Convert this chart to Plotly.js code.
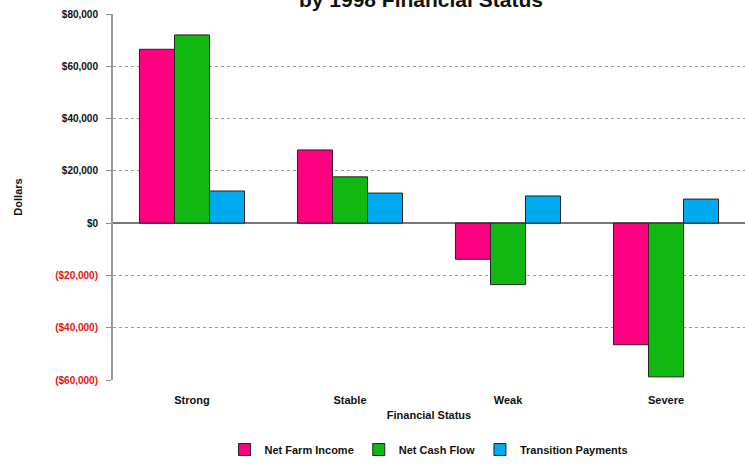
<!DOCTYPE html>
<html><head><meta charset="utf-8">
<script src="https://cdn.plot.ly/plotly-3.0.1.min.js"></script>
<style>html,body{margin:0;padding:0;background:#fff}#chart{width:745px;height:465px}</style>
</head><body><div id="chart"></div>
<script>
const categories = ["Strong", "Stable", "Weak", "Severe"];
const netFarmIncome = [66500, 28000, -13800, -46500];
const netCashFlow = [72000, 17700, -23500, -58800];
const transitionPayments = [12300, 11500, 10400, 9200];
const yTickVals = [80000, 60000, 40000, 20000, 0, -20000, -40000, -60000];
const yTickText = ["$80,000", "$60,000", "$40,000", "$20,000", "$0",
  '<span style="color:#ee1111">($20,000)</span>',
  '<span style="color:#ee1111">($40,000)</span>',
  '<span style="color:#ee1111">($60,000)</span>'];

const mk = (name, y, color) => ({
  type: "bar", name: name, x: categories, y: y,
  marker: {color: color, line: {color: "#222", width: 1}}
});
const data = [
  mk("Net Farm Income", netFarmIncome, "#FF0080"),
  mk("Net Cash Flow", netCashFlow, "#12B812"),
  mk("Transition Payments", transitionPayments, "#00AAEE")
];
const layout = {
  width: 745, height: 465,
  margin: {l: 113, r: 0, t: 14, b: 85},
  paper_bgcolor: "#fff", plot_bgcolor: "#fff",
  font: {family: "Liberation Sans, Arial, sans-serif", color: "#111"},
  barmode: "group", bargap: 0.335, bargroupgap: 0,
  showlegend: true,
  title: {text: "<b>by 1998 Financial Status</b>", font: {size: 21, color: "#111"},
    x: 0.565, xanchor: "center", y: 1.0, yanchor: "middle", yref: "container"},
  xaxis: {
    type: "category", showgrid: false, showline: false, ticks: "",
    ticklabelstandoff: 12,
    tickfont: {size: 11, weight: "bold", color: "#111"},
    title: {text: "<b>Financial Status</b>", font: {size: 11, color: "#111"}, standoff: 6}
  },
  yaxis: {
    range: [-60000, 80000], tickvals: yTickVals, ticktext: yTickText,
    tickfont: {size: 10, weight: "bold", color: "#111"},
    ticks: "outside", ticklen: 5, tickcolor: "#888", ticklabelstandoff: 6,
    showline: true, linecolor: "#999", linewidth: 2,
    showgrid: true, gridcolor: "#999", griddash: "dot", gridwidth: 1,
    zeroline: true, zerolinecolor: "#777", zerolinewidth: 1.5,
    title: {text: "<b>Dollars</b>", font: {size: 11, color: "#111"}, standoff: 30}
  },
  legend: {orientation: "h", x: 0.5, xanchor: "center", y: -0.19, yanchor: "middle",
    font: {size: 11, weight: "bold", color: "#111"}, itemwidth: 30, traceorder: "normal"}
};
Plotly.newPlot("chart", data, layout, {displayModeBar: false});
</script></body></html>
